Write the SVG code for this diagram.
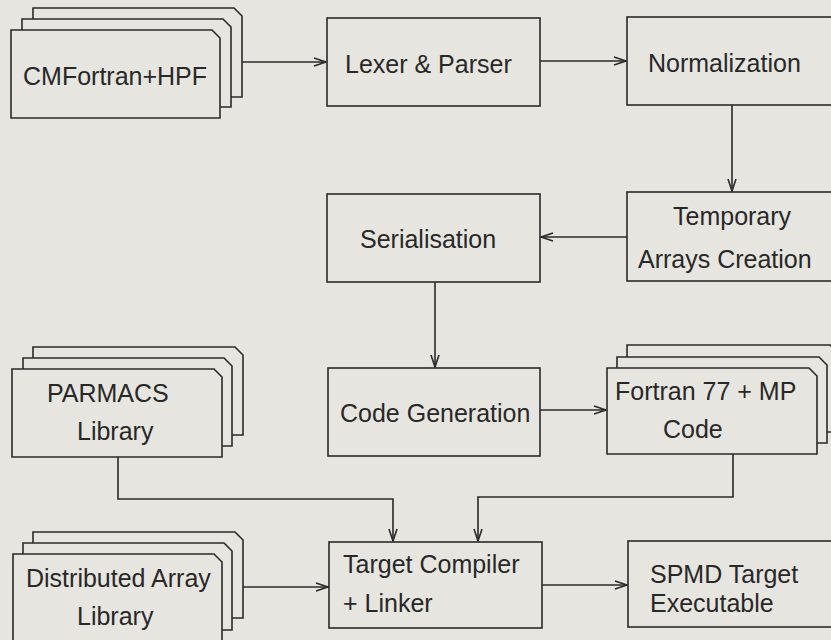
<svg xmlns="http://www.w3.org/2000/svg" width="831" height="640" viewBox="0 0 831 640">
<defs>
<style>
.bx{fill:#e7e5e0;stroke:#2a2a2a;stroke-width:1.6}
.cn{fill:none;stroke:#2a2a2a;stroke-width:1.6}
text{font-family:"Liberation Sans",Arial,sans-serif;font-size:25px;fill:#282828}
</style>
<marker id="ah" markerWidth="14" markerHeight="10" refX="13" refY="5" orient="auto" markerUnits="userSpaceOnUse">
<path d="M1,1 L13,5 L1,9" fill="none" stroke="#2a2a2a" stroke-width="1.6"/>
</marker>
</defs>
<rect width="831" height="640" fill="#e7e5e0"/>
<g id="connectors">
<path class="cn" d="M242,62 H326" marker-end="url(#ah)"/>
<path class="cn" d="M540,61 H626" marker-end="url(#ah)"/>
<path class="cn" d="M732,105 V191" marker-end="url(#ah)"/>
<path class="cn" d="M627,237 H541" marker-end="url(#ah)"/>
<path class="cn" d="M435,282 V367" marker-end="url(#ah)"/>
<path class="cn" d="M540,410 H606" marker-end="url(#ah)"/>
<path class="cn" d="M118,457 V499 H393 V541" marker-end="url(#ah)"/>
<path class="cn" d="M733,454 V497 H478 V541" marker-end="url(#ah)"/>
<path class="cn" d="M243,587 H328" marker-end="url(#ah)"/>
<path class="cn" d="M542,585 H627" marker-end="url(#ah)"/>
</g>
<g id="cmfortran">
<path class="bx" d="M33,97 V8 H234 L242,16 V97 Z"/>
<path class="bx" d="M22,107 V19 H223 L231,27 V107 Z"/>
<path class="bx" d="M11,118 V30 H212 L220,38 V118 Z"/>
<text x="23" y="85">CMFortran+HPF</text>
</g>
<g id="lexer">
<rect class="bx" x="327" y="18" width="213" height="88"/>
<text x="345" y="73">Lexer &amp; Parser</text>
</g>
<g id="normalization">
<rect class="bx" x="627" y="17" width="213" height="88"/>
<text x="648" y="72">Normalization</text>
</g>
<g id="temporary">
<rect class="bx" x="627" y="192" width="213" height="89"/>
<text x="673" y="225">Temporary</text>
<text x="638" y="268">Arrays Creation</text>
</g>
<g id="serialisation">
<rect class="bx" x="327" y="194" width="213" height="88"/>
<text x="360" y="248">Serialisation</text>
</g>
<g id="codegen">
<rect class="bx" x="328" y="368" width="212" height="88"/>
<text x="340" y="422">Code Generation</text>
</g>
<g id="fortran77">
<path class="bx" d="M627,432 V345 H830 L838,353 V432 Z"/>
<path class="bx" d="M617,443 V357 H819 L827,365 V443 Z"/>
<path class="bx" d="M607,454 V368 H809 L817,376 V454 Z"/>
<text x="615" y="400">Fortran 77 + MP</text>
<text x="663" y="438">Code</text>
</g>
<g id="parmacs">
<path class="bx" d="M33,435 V347 H235 L243,355 V435 Z"/>
<path class="bx" d="M23,446 V358 H224 L232,366 V446 Z"/>
<path class="bx" d="M12,457 V369 H214 L222,377 V457 Z"/>
<text x="47" y="402">PARMACS</text>
<text x="77" y="440">Library</text>
</g>
<g id="distributed">
<path class="bx" d="M33,618 V532 H235 L243,540 V618 Z"/>
<path class="bx" d="M23,630 V543 H224 L232,551 V630 Z"/>
<path class="bx" d="M13,642 V554 H214 L222,562 V642 Z"/>
<text x="26" y="587">Distributed Array</text>
<text x="77" y="625">Library</text>
</g>
<g id="target">
<rect class="bx" x="329" y="542" width="213" height="86"/>
<text x="343" y="573">Target Compiler</text>
<text x="343" y="612">+ Linker</text>
</g>
<g id="spmd">
<rect class="bx" x="628" y="541" width="212" height="86"/>
<text x="650" y="583">SPMD Target</text>
<text x="650" y="612">Executable</text>
</g>
</svg>
